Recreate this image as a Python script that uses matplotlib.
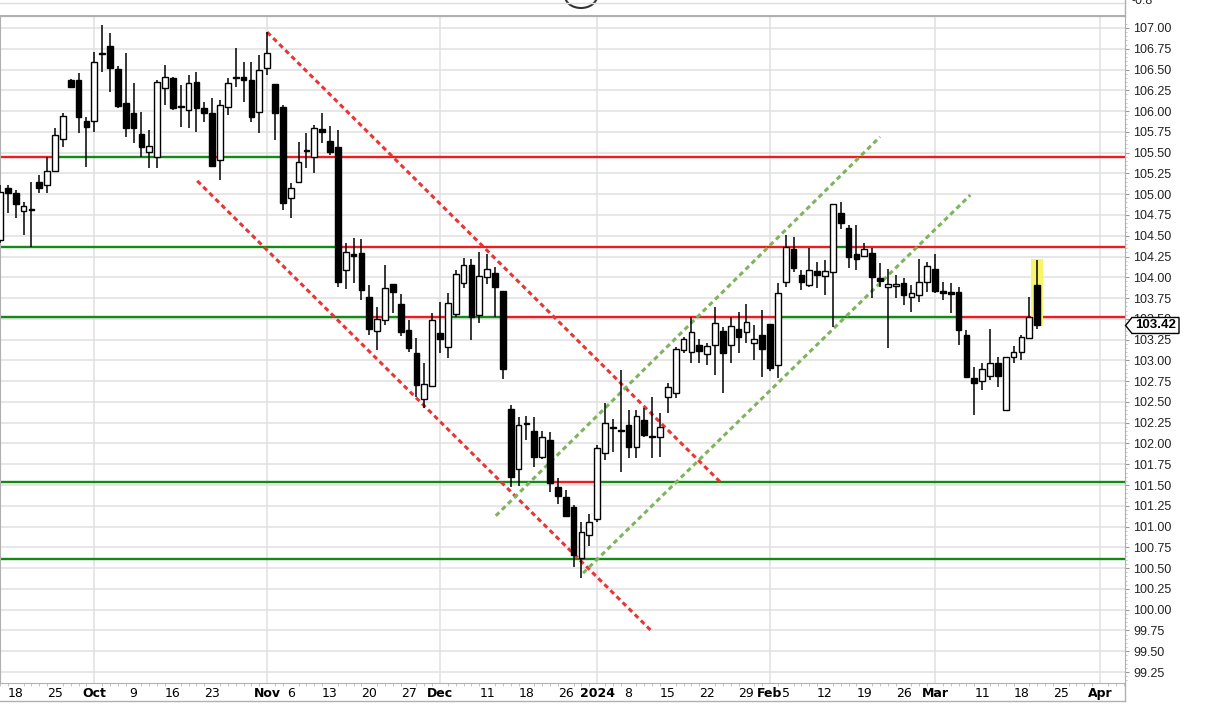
import matplotlib
matplotlib.use("Agg")
import matplotlib.pyplot as plt
from matplotlib.patches import Polygon, Rectangle, Ellipse
from matplotlib.lines import Line2D
from matplotlib.transforms import blended_transform_factory
import numpy as np
import pandas as pd

# trading days (no data on the two holidays)
days = pd.bdate_range("2023-09-14", "2024-04-01")
days = days.drop(pd.to_datetime(["2023-12-25", "2024-01-01"]))

# daily OHLC, Sep 14 2023 .. Mar 20 2024
opens = [104.45, 105.07, 105.01, 104.80, 104.81, 105.15, 105.11, 105.28, 105.66, 106.37,
         106.37, 105.88, 105.88, 106.69, 106.78, 106.51, 106.10, 105.98, 105.72, 105.51,
         105.45, 106.28, 106.40, 106.06, 106.01, 106.35, 106.04, 105.98, 105.41, 106.05,
         106.40, 106.41, 106.37, 105.99, 106.52, 106.33, 106.05, 104.95, 105.15, 105.53,
         105.45, 105.78, 105.64, 105.57, 104.09, 104.28, 104.29, 103.76, 103.35, 103.49,
         103.92, 103.68, 103.37, 103.09, 102.54, 102.69, 103.33, 103.16, 103.56, 103.93,
         104.15, 103.55, 104.00, 104.05, 103.84, 102.42, 101.69, 102.25, 102.15, 101.84,
         102.04, 101.48, 101.36, 101.24, 100.62, 100.90, 101.09, 101.89, 102.20, 102.16,
         102.22, 101.96, 102.28, 102.08, 102.08, 102.56, 102.61, 103.13, 103.10, 103.19,
         103.08, 103.19, 103.35, 103.19, 103.38, 103.34, 103.21, 103.31, 103.44, 102.94,
         103.94, 104.34, 104.03, 103.91, 104.08, 104.02, 104.06, 104.77, 104.59, 104.28,
         104.26, 104.29, 103.99, 103.88, 103.90, 103.93, 103.76, 103.79, 103.94, 104.10,
         103.84, 103.82, 103.82, 103.31, 102.79, 102.75, 102.81, 102.97, 102.40, 103.04,
         103.10, 103.27, 103.91]
highs = [105.11, 105.11, 105.05, 104.91, 105.15, 105.23, 105.45, 105.80, 105.98, 106.39,
         106.46, 105.93, 106.71, 107.04, 106.94, 106.54, 106.70, 106.34, 105.99, 105.77,
         106.37, 106.55, 106.41, 106.31, 106.43, 106.47, 106.11, 106.16, 106.13, 106.40,
         106.76, 106.59, 106.59, 106.68, 106.95, 106.33, 106.07, 105.13, 105.63, 105.74,
         105.83, 105.98, 105.82, 105.77, 104.41, 104.47, 104.46, 103.91, 103.64, 104.15,
         103.92, 103.80, 103.49, 103.27, 102.97, 103.57, 103.70, 103.81, 104.09, 104.23,
         104.22, 104.30, 104.28, 104.12, 103.84, 102.46, 102.32, 102.33, 102.32, 102.15,
         102.14, 101.58, 101.44, 101.26, 101.06, 101.15, 101.98, 102.49, 102.29, 102.88,
         102.40, 102.40, 102.43, 102.56, 102.37, 102.73, 103.16, 103.28, 103.52, 103.26,
         103.21, 103.64, 103.40, 103.52, 103.58, 103.68, 103.43, 103.61, 103.44, 103.93,
         104.51, 104.49, 104.09, 104.35, 104.18, 104.21, 104.88, 104.91, 104.63, 104.63,
         104.41, 104.35, 104.17, 104.10, 104.03, 103.99, 103.91, 104.22, 104.18, 104.28,
         103.94, 103.93, 103.88, 103.37, 102.92, 102.97, 103.38, 103.04, 103.04, 103.17,
         103.31, 103.76, 104.21]
lows = [104.41, 104.77, 104.71, 104.51, 104.36, 105.01, 105.01, 105.27, 105.57, 106.28,
        105.74, 105.33, 105.75, 106.47, 106.23, 106.04, 105.69, 105.62, 105.45, 105.32,
        105.32, 106.07, 106.01, 105.81, 105.80, 105.75, 105.87, 105.33, 105.17, 105.95,
        106.29, 106.11, 105.87, 105.74, 106.43, 105.65, 104.81, 104.71, 105.15, 105.32,
        105.26, 105.62, 105.47, 103.88, 103.86, 103.93, 103.73, 103.31, 103.13, 103.43,
        103.57, 103.29, 103.10, 102.56, 102.43, 102.68, 103.09, 103.03, 103.52, 103.87,
        103.25, 103.45, 103.92, 103.52, 102.78, 101.48, 101.49, 102.04, 101.72, 101.81,
        101.42, 101.27, 101.12, 100.51, 100.38, 100.77, 101.06, 101.80, 101.90, 101.66,
        101.83, 101.83, 102.08, 101.83, 101.84, 102.37, 102.55, 103.09, 102.97, 102.97,
        102.94, 102.82, 102.61, 102.97, 103.09, 103.21, 103.00, 102.80, 102.87, 102.79,
        103.88, 104.06, 103.85, 103.88, 103.87, 103.79, 103.40, 104.58, 104.11, 104.09,
        104.24, 103.75, 103.88, 103.15, 103.75, 103.67, 103.58, 103.70, 103.82, 103.81,
        103.73, 103.57, 103.19, 102.79, 102.34, 102.64, 102.76, 102.68, 102.39, 102.97,
        103.00, 103.26, 103.38]
closes = [105.03, 105.01, 104.88, 104.86, 104.82, 105.07, 105.28, 105.71, 105.94, 106.29,
          105.93, 105.81, 106.59, 106.70, 106.52, 106.06, 105.80, 105.80, 105.57, 105.58,
          106.35, 106.41, 106.04, 106.05, 106.34, 106.04, 105.98, 105.34, 106.07, 106.34,
          106.41, 106.37, 105.93, 106.49, 106.70, 105.98, 104.89, 105.07, 105.39, 105.52,
          105.80, 105.75, 105.51, 103.94, 104.30, 104.26, 103.85, 103.38, 103.50, 103.87,
          103.82, 103.34, 103.15, 102.70, 102.72, 103.49, 103.26, 103.69, 104.04, 104.15,
          103.52, 104.02, 104.10, 103.88, 102.90, 101.60, 102.22, 102.24, 101.84, 102.08,
          101.52, 101.37, 101.13, 100.66, 100.93, 101.06, 101.95, 102.25, 102.19, 102.15,
          101.96, 102.33, 102.10, 102.09, 102.20, 102.68, 103.14, 103.26, 103.34, 103.11,
          103.17, 103.45, 103.09, 103.41, 103.28, 103.46, 103.26, 103.14, 102.91, 103.81,
          104.36, 104.11, 103.94, 104.09, 104.03, 104.08, 104.88, 104.65, 104.24, 104.22,
          104.34, 104.00, 103.96, 103.92, 103.92, 103.79, 103.81, 103.94, 104.14, 103.84,
          103.81, 103.80, 103.37, 102.80, 102.73, 102.90, 102.97, 102.81, 103.04, 103.10,
          103.28, 103.52, 103.42]

# x axis labels
tick_dates = ["2023-09-18", "2023-09-25", "2023-10-02", "2023-10-09", "2023-10-16", "2023-10-23",
              "2023-11-01", "2023-11-06", "2023-11-13", "2023-11-20", "2023-11-27", "2023-12-01",
              "2023-12-11", "2023-12-18", "2023-12-26", "2024-01-02", "2024-01-08", "2024-01-15",
              "2024-01-22", "2024-01-29", "2024-02-01", "2024-02-05", "2024-02-12", "2024-02-19",
              "2024-02-26", "2024-03-01", "2024-03-11", "2024-03-18", "2024-03-25", "2024-04-01"]
tick_text = ["18", "25", "Oct", "9", "16", "23", "Nov", "6", "13", "20", "27", "Dec", "11", "18",
             "26", "2024", "8", "15", "22", "29", "Feb", "5", "12", "19", "26", "Mar", "11", "18",
             "25", "Apr"]
month_dates = ["2023-10-02", "2023-11-01", "2023-12-01", "2024-01-02", "2024-02-01",
               "2024-03-01", "2024-04-01"]

# horizontal levels: (price, [(from, to, colour), ...]) in trading-day units
levels = [
    (105.45, [(-1, 6.8, "r"), (6.8, 27.1, "g"), (27.1, 27.9, "r"), (27.9, 36.0, "g"), (36.0, 144, "r")]),
    (104.37, [(-1, 43.0, "g"), (43.0, 106.1, "r"), (106.1, 108.0, "g"), (108.0, 144, "r")]),
    (103.52, [(-1, 46.8, "g"), (46.8, 48.9, "r"), (48.9, 51.1, "g"), (51.1, 56.9, "r"),
              (56.9, 63.6, "g"), (63.6, 99.3, "r"), (99.3, 121.8, "g"), (121.8, 131.4, "r"),
              (131.4, 132.1, "g"), (132.1, 144, "r")]),
    (101.54, [(-1, 69.8, "g"), (69.8, 76.1, "r"), (76.1, 144, "g")]),
    (100.61, [(-1, 144, "g")]),
]
# trend channels: (x0, y0, x1, y1)
red_channel = [(34.0, 106.95, 91.95, 101.51), (25.1, 105.16, 83.06, 99.73)]
green_channel = [(63.1, 101.13, 112.0, 105.69), (74.2, 100.44, 123.5, 104.99)]

RED = "#ee1c1c"
GREEN = "#138a13"

fig = plt.figure(figsize=(12.05, 7.11), dpi=100)
ax = fig.add_axes([0, 28 / 711, 1125 / 1205, 667 / 711])
ax.set_xlim(0.18, 143.18)
ax.set_ylim(99.118, 107.144)

pos = {d: i for i, d in enumerate(days)}
x = np.arange(len(opens))
o = np.array(opens); h = np.array(highs); l = np.array(lows); c = np.array(closes)

# grid
ax.set_axisbelow(True)
ax.set_yticks(np.arange(99.25, 107.01, 0.25))
ax.yaxis.grid(True, color="#e0e0e0", lw=1.1)
for d in month_dates:
    ax.axvline(pos[pd.Timestamp(d)], color="#e0e0e0", lw=1.1, zorder=0)

# levels
for price, segs in levels:
    for a, b, col in segs:
        ax.plot([a, b], [price, price], color=RED if col == "r" else GREEN, lw=1.7,
                solid_capstyle="butt", zorder=1.5)

for x0, y0, x1, y1 in red_channel:
    ax.plot([x0, x1], [y0, y1], color="#e83535", lw=2.2, dashes=(1.6, 1.2), zorder=1.6)
for x0, y0, x1, y1 in green_channel:
    ax.plot([x0, x1], [y0, y1], color="#7db55e", lw=2.2, dashes=(1.6, 1.2), zorder=1.6)

# highlight on last bar
last = len(opens) - 1
ax.add_patch(Rectangle((last - 0.75, 103.41), 1.5, 0.81, color="#f7f56a", lw=0, zorder=1.8))

# candles
ax.vlines(x, l, h, color="black", lw=1.1, zorder=3)
up = c >= o
ax.bar(x[up], c[up] - o[up], bottom=o[up], width=0.72, color="white", edgecolor="black",
       linewidth=1.0, zorder=4)
ax.bar(x[~up], o[~up] - c[~up], bottom=c[~up], width=0.72, color="black", edgecolor="black",
       linewidth=1.0, zorder=4)

# axes styling
for s in ax.spines.values():
    s.set_color("#b0b0b0")
ax.yaxis.tick_right()
ax.set_yticklabels([f"{v:.2f}" for v in np.arange(99.25, 107.01, 0.25)],
                   fontsize=9, family=["Liberation Sans", "DejaVu Sans"], color="#222222")
ax.tick_params(axis="y", length=3, pad=3, color="#999999")
ax.set_yticks(np.arange(99.15, 107.1, 0.05), minor=True)
ax.tick_params(axis="y", which="minor", length=1.5, color="#bbbbbb")

ax.set_xticks([pos[pd.Timestamp(d)] for d in tick_dates])
ax.set_xticklabels(tick_text, fontsize=9, family=["Liberation Sans Narrow", "DejaVu Sans"])
for lbl, t in zip(ax.get_xticklabels(), tick_text):
    if not t.isdigit() or t == "2024":
        lbl.set_fontweight("bold")
ax.tick_params(axis="x", length=0, pad=3)
ax.set_xticks(np.arange(0, 144), minor=True)
ax.tick_params(axis="x", which="minor", length=2, color="#bbbbbb")

# last price tag
tr = blended_transform_factory(ax.transAxes, ax.transData)
cl = closes[-1]
dy = 8 / 83.1
ax.add_patch(Polygon([(1.0005, cl), (1.0062, cl + dy), (1.048, cl + dy), (1.048, cl - dy),
                      (1.0062, cl - dy)], closed=True, transform=tr, facecolor="white",
                     edgecolor="black", lw=1.0, clip_on=False, zorder=10))
ax.text(1.0275, cl, f"{cl:.2f}", transform=tr, ha="center", va="center", fontsize=9.5,
        fontweight="bold", family=["Liberation Sans", "DejaVu Sans"], zorder=11, clip_on=False)

# top panel remnant
fig.add_artist(Line2D([0, 1125 / 1205], [1 - 16 / 711] * 2, color="#b0b0b0", lw=1.5))
fig.add_artist(Line2D([0, 1125 / 1205], [1 - 3 / 711] * 2, color="#dddddd", lw=1))
fig.add_artist(Line2D([1125 / 1205] * 2, [1 - 16 / 711, 1], color="#b0b0b0", lw=1))
fig.text(1132 / 1205, 1 - 1 / 711, "-0.8", fontsize=9, va="center", color="#222222",
         family=["Liberation Sans", "DejaVu Sans"])
fig.add_artist(Ellipse((581 / 1205, 1 + 4 / 711), 32 / 1205, 24 / 711, facecolor="white",
                       edgecolor="#333333", lw=1.5))
# bottom strip line
fig.add_artist(Line2D([0, 1125 / 1205], [1 - 701 / 711] * 2, color="#b0b0b0", lw=1))
fig.add_artist(Line2D([1125 / 1205] * 2, [1 - 701 / 711, 1 - 683 / 711], color="#b0b0b0", lw=1))

fig.savefig("out.png", dpi=100, facecolor="white")
